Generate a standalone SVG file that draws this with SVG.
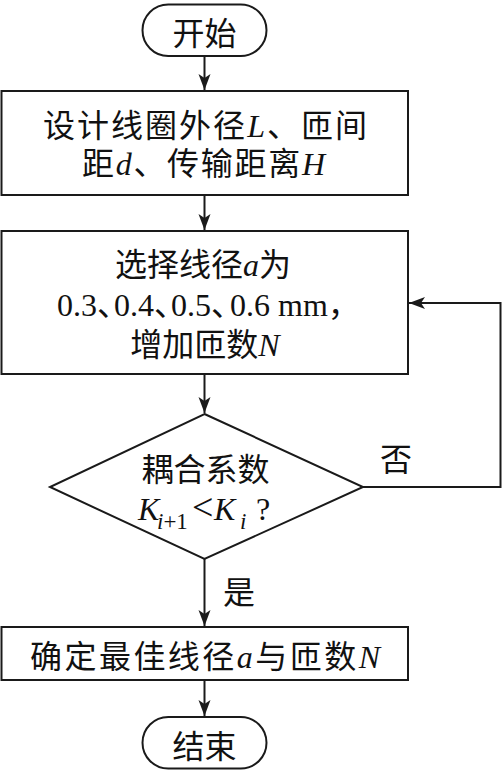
<svg xmlns="http://www.w3.org/2000/svg" width="502" height="771" viewBox="0 0 502 771">
<style>
.s{fill:#fff;stroke:#1a1a1a;stroke-width:2}
.c{fill:none;stroke:#1a1a1a;stroke-width:2}
.t{font-family:"Liberation Serif","Noto Sans CJK SC",serif;font-size:32px;fill:#111}
.m{text-anchor:middle}
.i{font-style:italic}
</style>
<defs>
<marker id="ar" viewBox="-17 -7 18 14" refX="0" refY="0" markerWidth="18" markerHeight="14" markerUnits="userSpaceOnUse" orient="auto">
<path d="M0,0 L-16,-6 L-12,0 L-16,6 Z" fill="#1a1a1a"/>
</marker>
</defs>
<rect width="502" height="771" fill="#fff"/>
<g id="connectors">
<line class="c" x1="204.5" y1="56" x2="204.5" y2="90" marker-end="url(#ar)"/>
<line class="c" x1="204.5" y1="195" x2="204.5" y2="230" marker-end="url(#ar)"/>
<line class="c" x1="204.5" y1="374" x2="204.5" y2="413" marker-end="url(#ar)"/>
<line class="c" x1="204.5" y1="559" x2="204.5" y2="626" marker-end="url(#ar)"/>
<line class="c" x1="204.5" y1="680" x2="204.5" y2="716" marker-end="url(#ar)"/>
<path class="c" d="M363,487 H500.5 V303 H409" marker-end="url(#ar)"/>
<text class="t" x="380" y="471">否</text>
<text class="t" x="223" y="604">是</text>
</g>
<g id="start">
<rect class="s" x="142.5" y="4.5" width="124" height="51.5" rx="25.75"/>
<text class="t m" x="204.5" y="45">开始</text>
</g>
<g id="design">
<rect class="s" x="1.5" y="91" width="406.5" height="104"/>
<text class="t" x="43" y="137" textLength="324">设计线圈外径<tspan class="i">L</tspan>、匝间</text>
<text class="t" x="82" y="175" textLength="243">距<tspan class="i">d</tspan>、传输距离<tspan class="i">H</tspan></text>
</g>
<g id="select">
<rect class="s" x="1.5" y="231" width="406.5" height="143"/>
<text class="t m" x="203" y="276">选择线径<tspan class="i">a</tspan>为</text>
<text class="t" x="57" y="316">0.3、<tspan dx="-15">0.4、</tspan><tspan dx="-15">0.5、</tspan><tspan dx="-13">0.6 mm，</tspan></text>
<text class="t m" x="205" y="356">增加匝数<tspan class="i">N</tspan></text>
</g>
<g id="decision">
<polygon class="s" points="204.5,414 363,487 204.5,559 50,487"/>
<text class="t m" x="205.5" y="481" font-size="33">耦合系数</text>
<text class="t" y="520" font-size="34"><tspan x="138" class="i">K</tspan><tspan x="157" y="529" font-size="23" class="i">i</tspan><tspan y="529" font-size="23">+1</tspan><tspan x="192" y="520" font-size="38">&lt;</tspan><tspan x="214" class="i">K</tspan><tspan x="240" y="529" font-size="23" class="i">i</tspan><tspan x="256" y="520" font-size="32">?</tspan></text>
</g>
<g id="confirm">
<rect class="s" x="1.5" y="627" width="406.5" height="53"/>
<text class="t m" x="205" y="668" textLength="350">确定最佳线径<tspan class="i">a</tspan>与匝数<tspan class="i">N</tspan></text>
</g>
<g id="end">
<rect class="s" x="142.5" y="717" width="124" height="51.5" rx="25.75"/>
<text class="t m" x="204.5" y="758">结束</text>
</g>
</svg>
